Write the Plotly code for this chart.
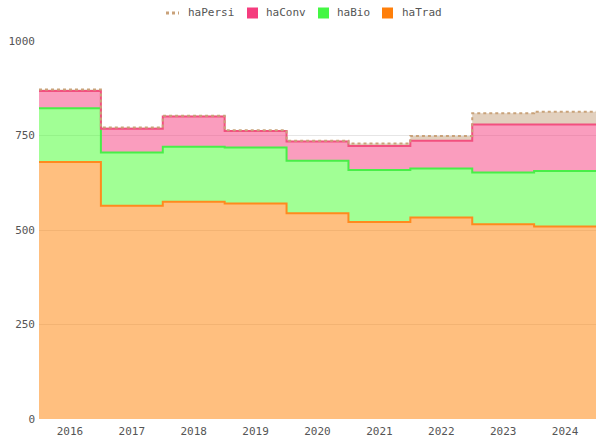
import plotly.graph_objects as go

years = ["2016", "2017", "2018", "2019", "2020", "2021", "2022", "2023", "2024"]
haTrad = [680, 564, 575, 570, 544, 521, 533, 515, 509]
haBio = [142, 141, 145, 148, 139, 138, 130, 137, 147]
haConv = [46, 63, 80, 44, 51, 63, 73, 127, 123]
haPersi = [4, 3, 2, 2, 2, 7, 13, 30, 34]
y_ticks = [0, 250, 500, 750, 1000]

pos = list(range(len(years)))
# extend steps to the category band edges
xs = [pos[0] - 0.5] + pos + [pos[-1] + 0.5]


def ext(v):
    return [v[0]] + list(v) + [v[-1]]


FONT = "DejaVu Sans Mono"
W, H = 596, 444
ML, MR, MT, MB = 39, 0, 41, 25
PW, PH = W - ML - MR, H - MT - MB


def px(x):
    return (x - ML) / PW


def py(y):
    return (H - MB - y) / PH


series = [
    ("haTrad", haTrad, "#FF8A1E", "rgba(255,128,0,0.5)", "solid", 2),
    ("haBio", haBio, "#48EE48", "rgba(68,255,44,0.5)", "solid", 2),
    ("haConv", haConv, "#F2507F", "rgba(245,60,125,0.5)", "solid", 2),
    ("haPersi", haPersi, "#C9A27A", "rgba(190,150,110,0.45)", "dot", 2),
]

fig = go.Figure()
for name, vals, lc, fc, dash, w in series:
    fig.add_trace(go.Scatter(
        x=xs, y=ext(vals), name=name, stackgroup="one", mode="lines",
        line=dict(color=lc, width=w, shape="hvh", dash=dash),
        fillcolor=fc, showlegend=False, hoverinfo="skip",
    ))

# manual legend (reference order)
legend_items = [
    ("haPersi", "#C9A27A", "dot", 166, 186),
    ("haConv", "#F53C7E", "square", 247, 264),
    ("haBio", "#44F744", "square", 318, 335),
    ("haTrad", "#FF7F0A", "square", 382, 400),
]
LY = 13
shapes = []
annotations = []
for name, color, kind, sx, tx in legend_items:
    if kind == "square":
        shapes.append(dict(type="rect", xref="paper", yref="paper",
                           x0=px(sx), x1=px(sx + 11), y0=py(LY + 5.5), y1=py(LY - 5.5),
                           fillcolor=color, line=dict(width=0), layer="above"))
    else:
        shapes.append(dict(type="line", xref="paper", yref="paper",
                           x0=px(sx), x1=px(sx + 13), y0=py(LY), y1=py(LY),
                           line=dict(color=color, width=3, dash="dot"), layer="above"))
    annotations.append(dict(text=name, xref="paper", yref="paper", x=px(tx), y=py(LY),
                            xanchor="left", yanchor="middle", showarrow=False,
                            font=dict(family=FONT, size=11, color="#555")))

fig.update_layout(
    width=W, height=H,
    margin=dict(l=ML, r=MR, t=MT, b=MB, autoexpand=False),
    paper_bgcolor="white", plot_bgcolor="white",
    font=dict(family=FONT, size=11, color="#555"),
    showlegend=False,
    shapes=shapes, annotations=annotations,
    xaxis=dict(range=[-0.5, len(years) - 0.5], tickvals=pos, ticktext=years,
               showgrid=False, zeroline=False, showline=False, ticks="", automargin=False,
               ticklabelstandoff=4,
               tickfont=dict(family=FONT, size=11, color="#555")),
    yaxis=dict(range=[0, 1000], tickvals=y_ticks, showgrid=True, automargin=False,
               gridcolor="#e6e6e6", gridwidth=1, zeroline=False, ticks="",
               ticklabelstandoff=3,
               tickfont=dict(family=FONT, size=11, color="#555")),
)

fig.write_html("out.html", config={"displayModeBar": False},
               post_script="document.body.style.margin='0';")
